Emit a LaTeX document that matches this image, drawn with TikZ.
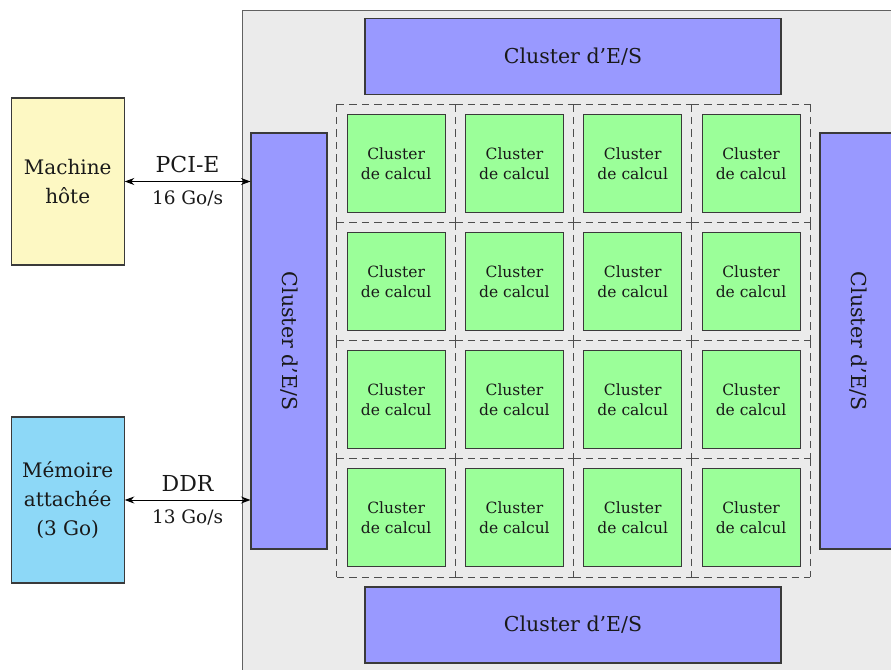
\documentclass[tikz,border=0pt]{standalone}
\usepackage{fontspec}
\setmainfont{DejaVu Serif}
\usetikzlibrary{arrows.meta}
\definecolor{hostyellow}{HTML}{FDF8C3}
\definecolor{memblue}{HTML}{8DD8F7}
\definecolor{iopurple}{HTML}{9999FF}
\definecolor{compgreen}{HTML}{9BFF99}
\definecolor{chipgrey}{HTML}{EBEBEB}
\definecolor{edgegrey}{HTML}{3A3A3A}
\begin{document}
\begin{tikzpicture}[x=1pt,y=-1pt,
  box/.style={draw=edgegrey,line width=1.1pt,inner sep=0pt,align=center,text=black!90},
  hostbox/.style={box,fill=hostyellow,minimum width=113pt,minimum height=167pt,font=\fontsize{20}{29}\selectfont},
  membox/.style={box,fill=memblue,minimum width=113pt,minimum height=166pt,font=\fontsize{20}{29}\selectfont},
  iobox/.style={box,fill=iopurple,minimum width=416pt,minimum height=76pt,font=\fontsize{20.5}{24}\selectfont},
  compbox/.style={box,fill=compgreen,minimum width=98pt,minimum height=98pt,font=\fontsize{15.5}{20.5}\selectfont},
  cellbox/.style={minimum width=118.3pt,minimum height=118.1pt,inner sep=0pt},
  celledge/.style={draw=edgegrey!90,dash pattern=on 7.5pt off 5pt,line width=1.1pt},
  link/.style={line width=0.9pt,{Stealth[length=9.5pt,width=7pt]}-{Stealth[length=9.5pt,width=7pt]}},
  linklabel/.style={inner sep=0pt,text=black!90},
  bigtag/.style={linklabel,font=\fontsize{22}{26}\selectfont},
  ratetag/.style={linklabel,font=\fontsize{18.5}{22}\selectfont}
]
\useasboundingbox (0,0) rectangle (891,669);
\clip (0,0) rectangle (891,669);

% chip outline
\draw[fill=chipgrey,draw=edgegrey!80,line width=0.9pt] (242,10) rectangle (920,700);

% external units
\node[hostbox] (host) at (67.7,181.5) {Machine\\hôte};
\node[membox] (mem) at (67.7,500) {Mémoire\\attachée\\(3 Go)};

% I/O clusters
\node[iobox] (ioT) at (573,56.5) {Cluster d’E/S};
\node[iobox] (ioB) at (573,625) {Cluster d’E/S};
\node[iobox,rotate=-90] (ioL) at (289,341) {Cluster d’E/S};
\node[iobox,rotate=-90] (ioR) at (858,341) {Cluster d’E/S};

% 4x4 grid of compute clusters; every cell draws its top and left edge,
% the last column and row close the grid on the right and at the bottom
\foreach \i in {0,...,3}{
  \foreach \j in {0,...,3}{
    \node[cellbox] (cell-\i-\j) at ({337+59.15+118.3*\i},{104.5+59.05+118.1*\j}) {};
    \draw[celledge] (cell-\i-\j.north west) -- (cell-\i-\j.north east);
    \draw[celledge] (cell-\i-\j.north west) -- (cell-\i-\j.south west);
    \ifnum\i=3 \draw[celledge] (cell-\i-\j.north east) -- (cell-\i-\j.south east);\fi
    \ifnum\j=3 \draw[celledge] (cell-\i-\j.south west) -- (cell-\i-\j.south east);\fi
    \node[compbox] (comp-\i-\j) at (cell-\i-\j.center) {Cluster\\de calcul};
  }
}

% host and memory links, ending on the left edge of the I/O cluster
\draw[link] (host.east) -- (ioL.south |- host.east)
  node[pos=0.5,above=8pt,bigtag] (pcielbl) {PCI-E}
  node[pos=0.5,below=9pt,ratetag] (pcierate) {16 Go/s};
\draw[link] (mem.east) -- (ioL.south |- mem.east)
  node[pos=0.5,above=8pt,bigtag] (ddrlbl) {DDR}
  node[pos=0.5,below=9pt,ratetag] (ddrrate) {13 Go/s};
\end{tikzpicture}
\end{document}
